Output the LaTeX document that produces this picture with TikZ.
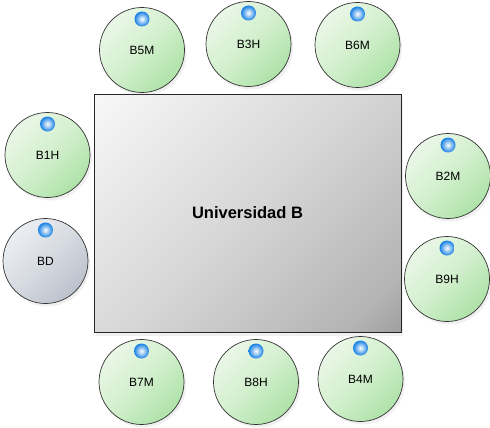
\documentclass[tikz,border=0pt]{standalone}
\usepackage{fontspec}
\setmainfont{Liberation Sans}
\usetikzlibrary{shadows}

\definecolor{greenlite}{RGB}{244,251,242}
\definecolor{greenmid}{RGB}{210,239,205}
\definecolor{greenmid2}{RGB}{170,225,164}
\definecolor{greendark}{RGB}{96,204,92}
\definecolor{greylite}{RGB}{244,246,248}
\definecolor{greymid}{RGB}{214,218,225}
\definecolor{greymid2}{RGB}{184,190,201}
\definecolor{greydark}{RGB}{136,144,158}
\definecolor{boxlite}{RGB}{252,252,252}
\definecolor{boxmid}{RGB}{214,214,214}
\definecolor{boxmid2}{RGB}{180,180,180}
\definecolor{boxdark}{RGB}{120,120,120}
\definecolor{bulbblue}{RGB}{22,128,228}

% degradados diagonales
\pgfdeclarehorizontalshading{greenfill}{100bp}{color(0bp)=(greenlite); color(15bp)=(greenlite);
  color(50bp)=(greenmid); color(78bp)=(greenmid2); color(100bp)=(greendark)}
\pgfdeclarehorizontalshading{greyfill}{100bp}{color(0bp)=(greylite); color(15bp)=(greylite);
  color(50bp)=(greymid); color(78bp)=(greymid2); color(100bp)=(greydark)}
\pgfdeclarehorizontalshading{boxfill}{100bp}{color(0bp)=(boxlite); color(10bp)=(boxlite);
  color(50bp)=(boxmid); color(78bp)=(boxmid2); color(100bp)=(boxdark)}

\begin{document}
\begin{tikzpicture}[x=1pt, y=-1pt,
  station/.style={circle, draw=black!80, line width=0.7pt, minimum size=85pt,
    inner sep=0pt, font=\fontsize{12}{14}\selectfont,
    drop shadow={shadow xshift=2pt, shadow yshift=-3pt, opacity=0.12}},
  greenst/.style={station, shading=greenfill, shading angle=-45},
  greyst/.style={station, shading=greyfill, shading angle=-45},
  bulb/.style={circle, minimum size=15pt, inner sep=0pt, shading=radial,
    inner color=white, outer color=bulbblue}]

  % lienzo
  \useasboundingbox (0,0) rectangle (490,428);

  % bloque central
  \node[draw=black!85, line width=0.8pt, minimum width=307pt, minimum height=238pt,
    shading=boxfill, shading angle=-45,
    drop shadow={shadow xshift=2pt, shadow yshift=-4pt, opacity=0.12},
    font=\fontsize{16.5}{19}\selectfont\bfseries] (univ) at (247.5,213) {Universidad B};

  % estaciones (verde)
  \foreach \n/\x/\y/\t in {b5m/142/50/B5M, b3h/248.5/44/B3H, b6m/357.5/45/B6M,
                           b1h/47.5/155/B1H, b2m/448/176/B2M, b9h/447/279/B9H,
                           b7m/141.5/382/B7M, b8h/256/382/B8H, b4m/360.5/379/B4M}
    \node[greenst] (\n) at (\x,\y) {\t};

  % estacion gris
  \node[greyst] (bd) at (45.5,261) {BD};

  % luces azules
  \foreach \n in {b5m,b3h,b6m,b1h,b2m,b9h,b7m,b8h,b4m,bd}
    \node[bulb] (\n-led) at ([yshift=31pt]\n.center) {};

\end{tikzpicture}
\end{document}
